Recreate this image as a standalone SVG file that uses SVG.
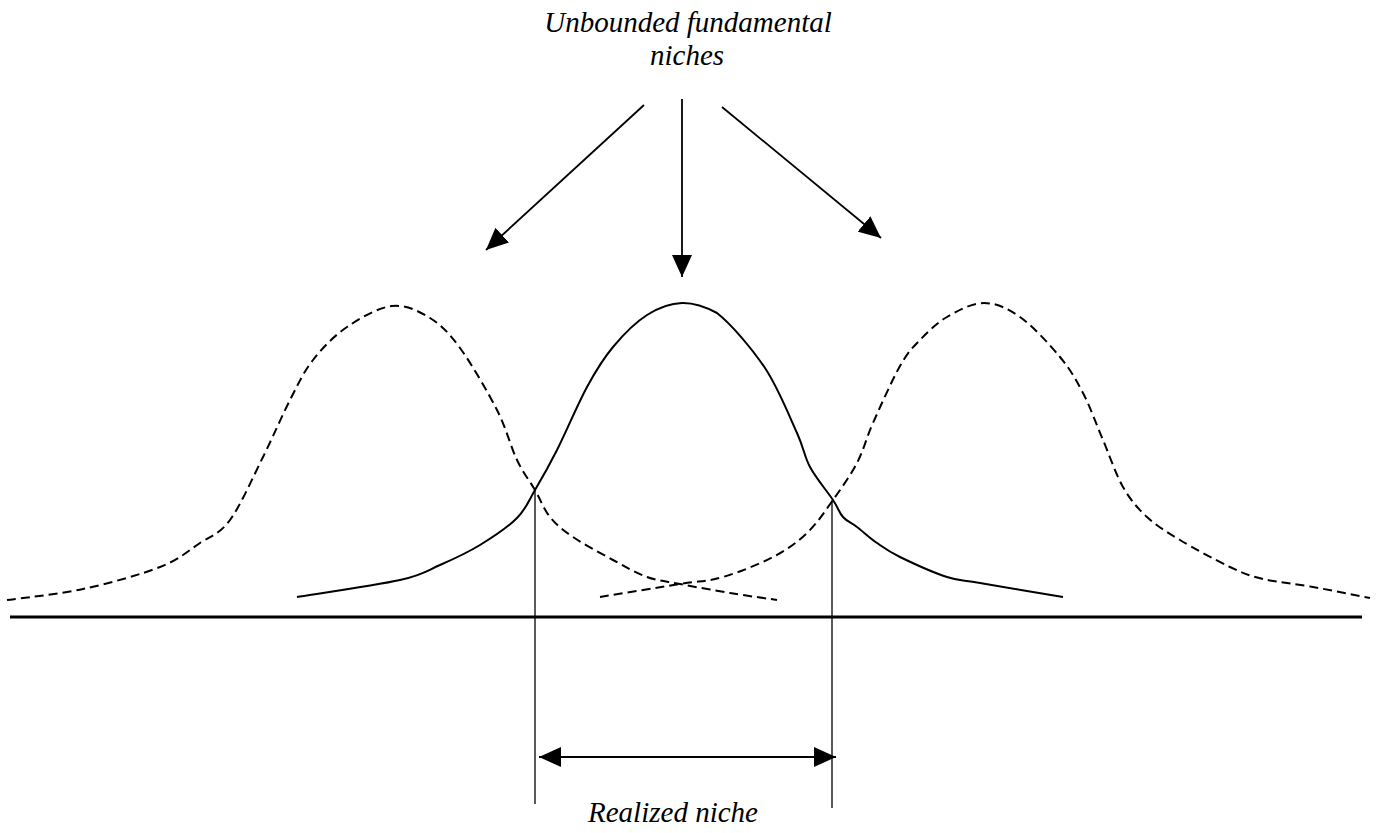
<svg xmlns="http://www.w3.org/2000/svg" width="1381" height="833" viewBox="0 0 1381 833">
<style>
  .lbl { font-family: "Liberation Serif", "Times New Roman", serif; font-style: italic; font-size: 29px; fill: #000; }
  .curve { fill: none; stroke: #000; stroke-width: 2; stroke-linejoin: round; }
  .dash { stroke-dasharray: 9 5; }
  .arrow { stroke: #000; stroke-width: 1.8; fill: none; }
  .guide { stroke: #000; stroke-width: 1.3; fill: none; }
</style>
<defs>
  <marker id="head" markerUnits="userSpaceOnUse" markerWidth="22" markerHeight="20" refX="22" refY="10" orient="auto-start-reverse" viewBox="0 0 22 20">
    <path d="M0,0 L22,10 L0,20 z" fill="#000"/>
  </marker>
</defs>
<rect x="0" y="0" width="1381" height="833" fill="#fff"/>

<g id="label-fundamental">
  <text class="lbl" x="688" y="32" text-anchor="middle">Unbounded fundamental</text>
  <text class="lbl" x="687" y="65" text-anchor="middle">niches</text>
</g>

<g id="curve-left">
  <path class="curve dash" d="M7,600 C19.7,598.2 57.5,594.5 83,589 C108.5,583.5 140.5,574.7 160,567 C179.5,559.3 188.3,550.8 200,543 C211.7,535.2 219.5,534.3 230,520 C240.5,505.7 253,477 263,457 C273,437 281.7,416.2 290,400 C298.3,383.8 303.5,372.2 313,360 C322.5,347.8 333.8,336 347,327 C360.2,318 378.2,307.5 392,306 C405.8,304.5 418.7,311 430,318 C441.3,325 448.8,332.7 460,348 C471.2,363.3 487.5,391.3 497,410 C506.5,428.7 510.7,446.7 517,460 C523.3,473.3 529.5,480.5 535,490 C540.5,499.5 543.7,509.2 550,517 C556.3,524.8 562.5,529.8 573,537 C583.5,544.2 600.7,553.3 613,560 C625.3,566.7 635.8,573 647,577 C658.2,581 666.2,581.3 680,584 C693.8,586.7 713.8,590.3 730,593 C746.2,595.7 769.2,598.8 777,600"/>
</g>

<g id="curve-center">
  <path class="curve" d="M297,597 C314.2,594.2 376.2,585.3 400,580 C423.8,574.7 426.7,570.8 440,565 C453.3,559.2 467.2,552.8 480,545 C492.8,537.2 507.8,527.2 517,518 C526.2,508.8 528.3,501.3 535,490 C541.7,478.7 548.3,467.2 557,450 C565.7,432.8 577.7,404.2 587,387 C596.3,369.8 603,359 613,347 C623,335 635.5,322.3 647,315 C658.5,307.7 670.3,303.3 682,303 C693.7,302.7 705,306.5 717,313 C730.8,323.8 751.7,348 765,368 C778.3,388 789.5,416.5 797,433 C804.5,449.5 804,455.8 810,467 C816,478.2 827.5,491.7 833,500 C838.5,508.3 839,512.5 843,517 C847,521.5 851.3,522.7 857,527 C862.7,531.3 869.8,538 877,543 C884.2,548 888.3,551.3 900,557 C911.7,562.7 933.7,572.7 947,577 C960.3,581.3 960.7,579.7 980,583 C999.3,586.3 1049.2,594.7 1063,597"/>
</g>

<g id="curve-right">
  <path class="curve dash" d="M600,597 C613.3,594.8 659.5,587.3 680,584 C700.5,580.7 707.5,581.5 723,577 C738.5,572.5 759,564.3 773,557 C787,549.7 797,542.5 807,533 C817,523.5 824.7,511.7 833,500 C841.3,488.3 850.3,475.8 857,463 C863.7,450.2 865.8,439.3 873,423 C880.2,406.7 892.2,379.8 900,366 C907.8,352.2 912.2,348 920,340 C927.8,332 936.3,323.2 947,317 C957.7,310.8 971.8,303 984,303 C996.2,303 1007.3,308 1020,317 C1032.7,326 1049.5,344.3 1060,357 C1070.5,369.7 1075.8,379.2 1083,393 C1090.2,406.8 1096.3,424.3 1103,440 C1109.7,455.7 1115.7,474.2 1123,487 C1130.3,499.8 1137.5,508.2 1147,517 C1156.5,525.8 1166.2,531.7 1180,540 C1193.8,548.3 1216.2,560.5 1230,567 C1243.8,573.5 1249.2,575.7 1263,579 C1276.8,582.3 1295.2,583.8 1313,587 C1330.8,590.2 1360.5,596.2 1370,598"/>
</g>

<g id="axis">
  <line x1="10" y1="617" x2="1362" y2="617" stroke="#000" stroke-width="3"/>
</g>

<g id="connectors">
  <line class="arrow" x1="644" y1="105" x2="486" y2="250" marker-end="url(#head)"/>
  <line class="arrow" x1="682" y1="99" x2="682" y2="277" marker-end="url(#head)"/>
  <line class="arrow" x1="722" y1="107" x2="881" y2="238" marker-end="url(#head)"/>
  <line class="guide" x1="535" y1="490" x2="535" y2="804"/>
  <line class="guide" x1="832" y1="500" x2="832" y2="808"/>
  <line class="arrow" x1="539" y1="757" x2="836" y2="757" marker-start="url(#head)" marker-end="url(#head)"/>
</g>

<g id="label-realized">
  <text class="lbl" x="673" y="822" text-anchor="middle">Realized niche</text>
</g>
</svg>
